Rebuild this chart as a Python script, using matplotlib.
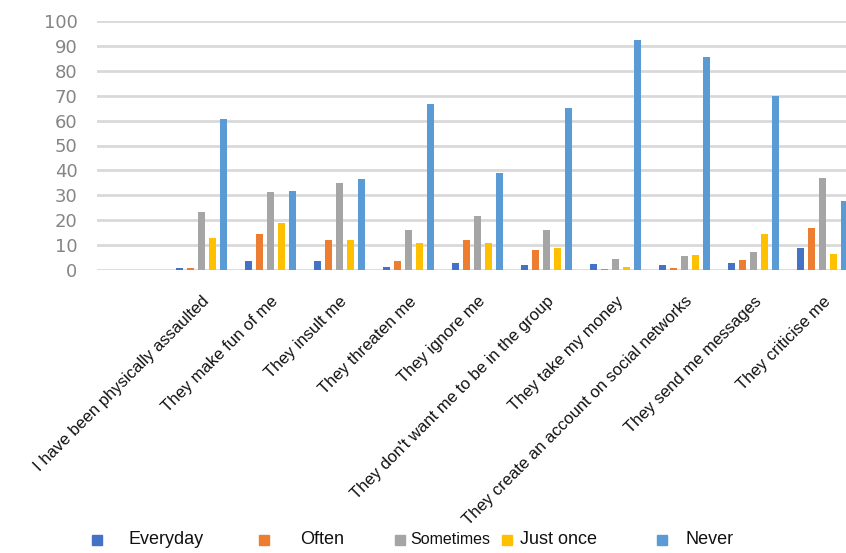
import matplotlib
matplotlib.use("Agg")
import matplotlib.pyplot as plt
import numpy as np
from matplotlib.patches import Rectangle

# Survey answers (% of respondents) per type of aggression
categories = [
    "I have been physically assaulted",
    "They make fun of me",
    "They insult me",
    "They threaten me",
    "They ignore me",
    "They don't want me to be in the group",
    "They take my money",
    "They create an account on social networks",
    "They send me messages",
    "They criticise me",
]
series_names = ["Everyday", "Often", "Sometimes", "Just once", "Never"]

everyday = [1.0, 3.5, 3.6, 1.3, 2.7, 2.0, 2.3, 2.0, 2.7, 8.7]
often = [1.0, 14.3, 12.0, 3.5, 12.0, 8.0, 0.3, 0.7, 4.0, 16.7]
sometimes = [23.2, 31.2, 35.0, 16.0, 21.7, 16.0, 4.3, 5.7, 7.1, 36.8]
just_once = [13.0, 18.7, 12.0, 10.7, 10.7, 8.7, 1.2, 6.0, 14.3, 6.4]
never = [60.5, 31.9, 36.4, 66.5, 38.8, 64.9, 92.2, 85.7, 70.0, 27.7]

yticks = list(range(0, 101, 10))

series_values = [everyday, often, sometimes, just_once, never]
colors = ["#4472C4", "#ED7D31", "#A5A5A5", "#FFC000", "#5B9BD5"]

fig = plt.figure(figsize=(8.46, 5.53), dpi=100)
ax = fig.add_axes([97 / 846, 1 - 270 / 553, 1 - 97 / 846, (270 - 21) / 553])

x = np.arange(len(categories))
slot = 0.16
bar_w = 0.10
for k, (vals, col) in enumerate(zip(series_values, colors)):
    ax.bar(x + (k - 2) * slot, vals, width=bar_w, color=col, zorder=3,
           label=series_names[k])

ax.set_ylim(0, 100)
ax.set_xlim(-1.51, 9.34)
ax.set_yticks(yticks)
ax.set_yticklabels([str(t) for t in yticks], fontsize=13, color="#858585",
                   family="DejaVu Sans")
ax.yaxis.grid(True, color="#d9d9d9", linewidth=2, zorder=0)
ax.tick_params(axis="y", length=0, pad=14)
ax.tick_params(axis="x", length=0, pad=17)
for s in ax.spines.values():
    s.set_visible(False)

ax.set_xticks(x)
ax.set_xticklabels(categories, rotation=45, ha="right", rotation_mode="anchor",
                   fontsize=12, color="#111111", family="Liberation Sans")

# Legend row along the bottom
legend_items = [
    (97, 128, 13),
    (264, 300, 13),
    (400, 410, 11.5),
    (507, 520, 13),
    (662, 685, 13),
]
y_leg = 1 - 540 / 553
for (mx, tx, fs), name, col in zip(legend_items, series_names, colors):
    fig.add_artist(Rectangle((mx / 846 - 5 / 846, y_leg - 5 / 553), 10 / 846, 10 / 553,
                             transform=fig.transFigure, color=col))
    fig.text(tx / 846, y_leg, name, fontsize=fs, color="#111111",
             family="Liberation Sans", va="center", ha="left")

fig.savefig("out.png", dpi=100)
